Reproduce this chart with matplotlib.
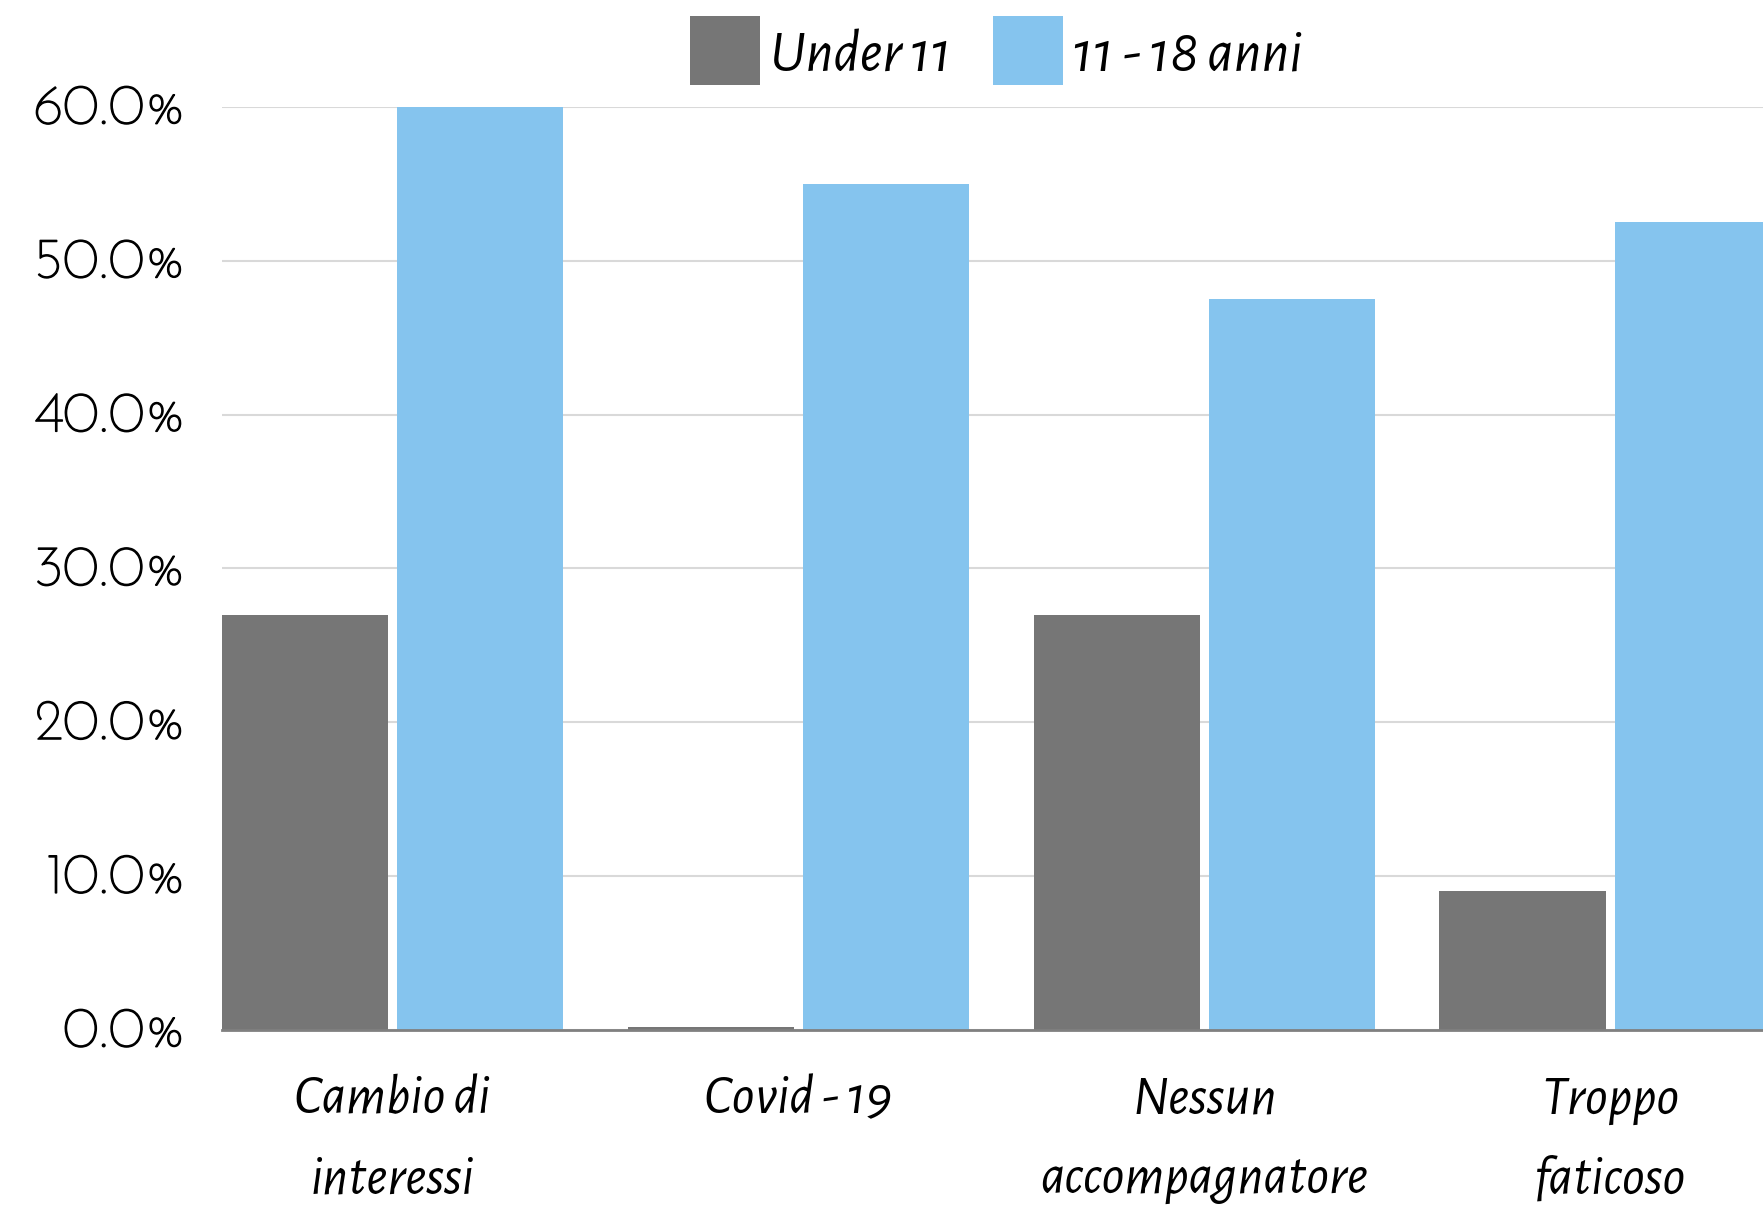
import numpy as np
import matplotlib.pyplot as plt
import matplotlib.patheffects as pe
from matplotlib.ticker import PercentFormatter

categories = ["Cambio di\ninteressi", "Covid - 19", "Nessun\naccompagnatore", "Troppo\nfaticoso"]
under11 = [27.0, 0.2, 27.0, 9.0]
anni_11_18 = [60.0, 55.0, 47.5, 52.5]
series_names = ["Under 11", "11 - 18 anni"]

grey = "#767676"
blue = "#85C4EE"

plt.rcParams['font.family'] = ['Alegreya Sans', 'DejaVu Sans']

fig = plt.figure(figsize=(17.63, 12.08), dpi=100)
ax = fig.add_axes([0.1257, 0.1474, 0.8743, 0.9115 - 0.1474])

x = np.arange(len(categories))
w = 0.41
off = 0.216
ax.bar(x - off, under11, width=w, color=grey, label=series_names[0], zorder=3)
ax.bar(x + off, anni_11_18, width=w, color=blue, label=series_names[1], zorder=3)

ax.set_ylim(0, 60)
ax.set_xlim(-0.421, 3.376)
ax.set_yticks(np.arange(0, 61, 10))
ax.yaxis.set_major_formatter(PercentFormatter(decimals=1))
ax.grid(axis='y', color='#d9d9d9', linewidth=1.5, zorder=0)
ax.set_axisbelow(True)

for s in ['top', 'right', 'left']:
    ax.spines[s].set_visible(False)
ax.spines['bottom'].set_color('#808080')
ax.spines['bottom'].set_linewidth(2)
ax.spines['bottom'].set_zorder(4)

# josefin comes out thin, thicken it a bit with a stroke
ax.tick_params(axis='both', length=0)
ax.tick_params(axis='y', pad=26)
for lab in ax.get_yticklabels():
    lab.set_fontfamily(['Josefin Sans', 'DejaVu Sans'])
    lab.set_fontsize(41)
    lab.set_color('black')
    lab.set_va('center')
    lab.set_path_effects([pe.withStroke(linewidth=1.1, foreground='black')])

ax.set_xticks(x)
ax.set_xticklabels([])
for xi, c in zip(x, categories):
    ax.text(xi, -0.048, c, transform=ax.get_xaxis_transform(), ha='center', va='top',
            fontsize=40, fontstyle='italic', linespacing=1.75)

fig.legend(loc='center', bbox_to_anchor=(0.565, 0.958), ncol=2, frameon=False,
           prop={'family': 'Alegreya Sans', 'size': 43, 'style': 'italic'},
           handlelength=1.17, handleheight=1.4,
           handletextpad=0.17, columnspacing=0.7)

fig.savefig('out.png', dpi=100)
